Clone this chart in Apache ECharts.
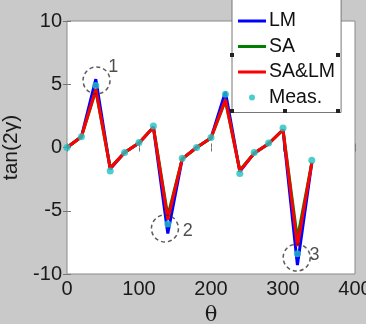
<!DOCTYPE html>
<html>
<head>
<meta charset="utf-8">
<script src="https://cdn.jsdelivr.net/npm/echarts@6/dist/echarts.min.js"></script>
<style>
  html, body { margin: 0; padding: 0; background: #c9c9c9; }
  #chart { width: 366px; height: 324px; }
</style>
</head>
<body>
<div id="chart"></div>
<script>
// angles theta (deg)
const theta = [0, 20, 40, 60, 80, 100, 120, 140, 160, 180, 200, 220, 240, 260, 280, 300, 320, 340]
const lmVals = [0, 0.85, 5.4, -1.7, -0.4, 0.35, 1.6, -6.8, -0.9, 0, 0.75, 4.4, -1.9, -0.45, 0.3, 1.4, -9.3, -1.2]
const saVals = [0, 0.85, 4.5, -1.6, -0.4, 0.35, 1.6, -5.4, -0.9, 0, 0.75, 3.7, -1.8, -0.45, 0.3, 1.4, -7.2, -1.2]
const salmVals = [0, 0.85, 4.6, -1.65, -0.4, 0.35, 1.6, -5.7, -0.9, 0, 0.75, 3.8, -1.85, -0.45, 0.3, 1.4, -7.8, -1.2]
const measVals = [0, 0.85, 4.9, -1.85, -0.4, 0.4, 1.7, -6.05, -0.85, 0, 0.8, 4.2, -2.05, -0.4, 0.35, 1.55, -8.4, -1.0]
// dashed circles around the peaks
const markTheta = [41, 136, 319]
const markVals = [5.3, -6.4, -8.7]
const markText = ['1', '2', '3']

const FONT = 'Liberation Sans'
const pairs = (ys) => theta.map((t, i) => [t, ys[i]])

// legend icons padded with degenerate corner points so they keep their size
const LINE_ICON = 'path://M0,0L0,0.01M28,14L28,14.01M0,5.6L28,5.6L28,8.4L0,8.4Z'
const DOT_ICON = 'path://M0,0L0,0.01M28,14L28,14.01M11,7A3,3 0 1,0 17,7A3,3 0 1,0 11,7Z'

const chart = echarts.init(document.getElementById('chart'))

const lineSeries = (name, vals, color) => ({
  name,
  type: 'line',
  data: pairs(vals),
  symbol: 'none',
  lineStyle: { color, width: 3 },
  itemStyle: { color },
  animation: false
})

const labelOffsets = [[31, 1], [37, 17], [32, 12]]

chart.setOption({
  backgroundColor: '#c9c9c9',
  animation: false,
  grid: {
    left: 67, top: 21, right: 11, bottom: 50,
    outerBoundsMode: 'none', containLabel: false,
    show: true, backgroundColor: '#fff', borderColor: '#8a8a8a', borderWidth: 1
  },
  xAxis: [{
    type: 'value', min: 0, max: 400, interval: 100,
    name: 'θ', nameLocation: 'middle', nameGap: 31,
    nameTextStyle: { fontFamily: 'DejaVu Serif', fontSize: 21, color: '#1a1a1a' },
    axisLine: { show: false },
    axisTick: { inside: true, length: 4, lineStyle: { color: '#777' } },
    axisLabel: { fontFamily: FONT, fontSize: 20, color: '#1a1a1a', margin: 5 },
    splitLine: { show: false }
  }, {
    type: 'value', min: 0, max: 400, interval: 100, position: 'top',
    axisLine: { show: false },
    axisTick: { inside: true, length: 4, lineStyle: { color: '#777' } },
    axisLabel: { show: false },
    splitLine: { show: false }
  }],
  yAxis: [{
    type: 'value', min: -10, max: 10, interval: 5,
    name: 'tan(2γ)', nameLocation: 'middle', nameGap: 40,
    nameTextStyle: { fontFamily: FONT, fontSize: 21, color: '#1a1a1a' },
    axisLine: { show: false },
    axisTick: { inside: true, length: 4, lineStyle: { color: '#777' } },
    axisLabel: { fontFamily: FONT, fontSize: 20, color: '#1a1a1a', margin: 5 },
    splitLine: { show: false }
  }, {
    type: 'value', min: -10, max: 10, interval: 5, position: 'right',
    axisLine: { show: false },
    axisTick: { inside: true, length: 4, lineStyle: { color: '#777' } },
    axisLabel: { show: false },
    splitLine: { show: false }
  }],
  legend: {
    orient: 'vertical',
    left: 232, top: -14,
    padding: [25, 6, 5, 6],
    itemWidth: 28, itemHeight: 14, itemGap: 5.5,
    backgroundColor: '#fff', borderColor: '#777', borderWidth: 1,
    textStyle: { fontFamily: FONT, fontSize: 19.5, color: '#111', padding: [0, 0, 0, -2] },
    selectedMode: false,
    data: [
      { name: 'LM', icon: LINE_ICON },
      { name: 'SA', icon: LINE_ICON },
      { name: 'SA&LM', icon: LINE_ICON },
      { name: 'Meas.', icon: DOT_ICON }
    ]
  },
  graphic: [
    [232, 55], [338, 55], [232, 111], [285, 111], [338, 111]
  ].map(([x, y]) => ({
    type: 'rect', shape: { x: x - 2, y: y - 2, width: 4, height: 4 },
    style: { fill: '#222' }, z: 100
  })),
  series: [
    lineSeries('LM', lmVals, '#0000ff'),
    lineSeries('SA', saVals, '#008000'),
    lineSeries('SA&LM', salmVals, '#ff0000'),
    {
      name: 'Meas.', type: 'scatter', data: pairs(measVals),
      symbolSize: 7, itemStyle: { color: '#22c0c0' }, z: 3
    },
    {
      name: 'marks', type: 'scatter',
      data: markTheta.map((t, i) => ({
        value: [t, markVals[i]],
        label: {
          show: true, formatter: markText[i], position: labelOffsets[i],
          align: 'center', verticalAlign: 'middle',
          fontFamily: FONT, fontSize: 18, color: '#222'
        }
      })),
      symbol: 'circle', symbolSize: 27,
      itemStyle: { color: 'rgba(0,0,0,0)', borderColor: '#333', borderWidth: 1.5, borderType: [4, 3] },
      z: 4, silent: true
    }
  ]
})
</script>
</body>
</html>
